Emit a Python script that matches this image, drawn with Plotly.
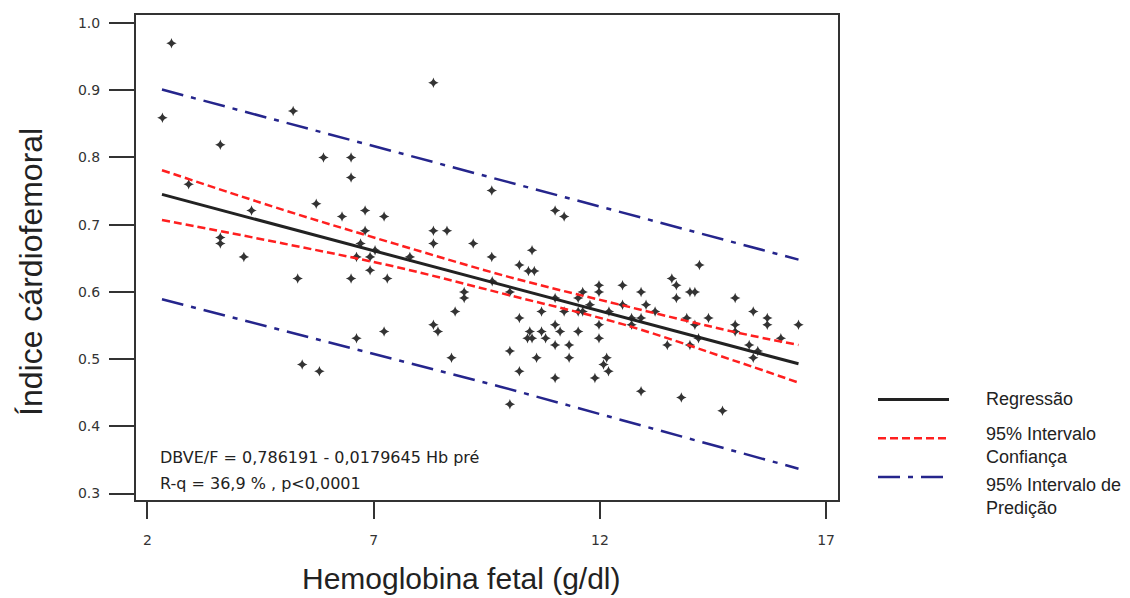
import plotly.graph_objects as go

# ---- Data ----
hb_x = [2.53, 2.33, 5.22, 3.61, 5.89, 6.50, 6.50, 2.91, 5.73, 4.30, 6.30, 6.81, 6.81, 3.61, 3.61,
        4.13, 6.71, 6.62, 6.92, 6.92, 7.03, 8.32, 9.61, 11.01, 11.21, 7.23, 8.32, 8.62, 8.32, 9.20,
        10.50, 9.61, 7.80, 10.22, 10.42, 10.55, 14.20, 5.32, 6.50, 6.62, 5.42, 5.80, 7.30, 9.00, 9.00,
        8.80, 9.62, 10.01, 11.01, 11.98, 11.98, 10.71, 10.22, 8.32, 8.42, 7.23, 10.45, 10.40, 10.50,
        10.71, 10.80, 11.01, 11.12, 11.01, 11.32, 11.52, 11.98, 11.98, 10.01, 10.60, 11.32, 8.72,
        10.22, 11.01, 11.89, 10.01, 12.15, 12.08, 12.19, 11.78, 11.52, 12.50, 13.59, 13.69, 13.69,
        13.99, 14.10, 12.91, 14.99, 13.02, 12.50, 13.22, 15.39, 12.20, 12.91, 12.70, 12.70, 13.92,
        14.40, 15.70, 15.70, 16.39, 14.99, 14.10, 14.99, 14.18, 16.00, 13.49, 13.99, 15.30, 15.39,
        15.49, 12.91, 13.80, 14.71, 11.62, 11.52, 11.62, 11.21]
icf_y = [0.970, 0.859, 0.869, 0.819, 0.800, 0.800, 0.770, 0.760, 0.731, 0.721, 0.712, 0.721, 0.691,
         0.681, 0.672, 0.652, 0.672, 0.652, 0.652, 0.632, 0.662, 0.911, 0.751, 0.721, 0.712, 0.712,
         0.691, 0.691, 0.672, 0.672, 0.662, 0.652, 0.652, 0.640, 0.631, 0.631, 0.640, 0.620, 0.620,
         0.531, 0.492, 0.482, 0.620, 0.600, 0.591, 0.571, 0.616, 0.600, 0.591, 0.610, 0.600, 0.571,
         0.561, 0.551, 0.541, 0.541, 0.541, 0.531, 0.531, 0.541, 0.531, 0.551, 0.541, 0.521, 0.521,
         0.541, 0.551, 0.531, 0.512, 0.502, 0.502, 0.502, 0.482, 0.472, 0.472, 0.433, 0.502, 0.492,
         0.482, 0.581, 0.571, 0.610, 0.620, 0.610, 0.591, 0.600, 0.600, 0.600, 0.591, 0.581, 0.581,
         0.571, 0.571, 0.571, 0.561, 0.561, 0.551, 0.561, 0.561, 0.561, 0.551, 0.551, 0.551, 0.551,
         0.541, 0.531, 0.531, 0.521, 0.521, 0.521, 0.502, 0.512, 0.452, 0.443, 0.423, 0.600, 0.591,
         0.571, 0.571]

reg_x = [2.32, 16.39]
reg_y = [0.745, 0.493]

ci_x = [2.32, 5.0, 7.5, 10.0, 12.5, 15.0, 16.39]
ci_upper = [0.781, 0.722, 0.671, 0.622, 0.580, 0.540, 0.521]
ci_lower = [0.707, 0.672, 0.637, 0.595, 0.552, 0.497, 0.465]

pi_x = [2.32, 9.8, 16.39]
pi_upper = [0.901, 0.766, 0.648]
pi_lower = [0.589, 0.459, 0.337]

y_ticks = [0.3, 0.4, 0.5, 0.6, 0.7, 0.8, 0.9, 1.0]
y_ticklabels = ["0.3", "0.4", "0.5", "0.6", "0.7", "0.8", "0.9", "1.0"]
x_ticks = [2, 7, 12, 17]
x_ticklabels = ["2", "7", "12", "17"]

legend_labels = ["Regressão", "95% Intervalo<br>Confiança", "95% Intervalo de<br>Predição"]

FONT = "DejaVu Sans"
SANS = "Liberation Sans"
REG_COLOR = "#222222"
CI_COLOR = "#ff1f1f"
PI_COLOR = "#25258c"
CI_DASH = "8px,4px"
PI_DASH = "22px,8px,5px,8px"

# The page body adds an 8px offset; the figure is sized/margined so the
# plot area lands at window pixels x 136..838, y 13..500.
OFF = 8
W, H = 1130 - OFF, 598 - OFF

fig = go.Figure()

fig.add_trace(go.Scatter(x=pi_x, y=pi_upper, mode="lines",
                         line=dict(color=PI_COLOR, width=2.5, dash=PI_DASH), showlegend=False))
fig.add_trace(go.Scatter(x=pi_x, y=pi_lower, mode="lines",
                         line=dict(color=PI_COLOR, width=2.5, dash=PI_DASH), showlegend=False))
fig.add_trace(go.Scatter(x=hb_x, y=icf_y, mode="markers",
                         marker=dict(symbol="star-diamond", size=7.5, color="#333333"),
                         showlegend=False))
fig.add_trace(go.Scatter(x=ci_x, y=ci_upper, mode="lines", line_shape="spline",
                         line=dict(color=CI_COLOR, width=2.5, dash=CI_DASH), showlegend=False))
fig.add_trace(go.Scatter(x=ci_x, y=ci_lower, mode="lines", line_shape="spline",
                         line=dict(color=CI_COLOR, width=2.5, dash=CI_DASH), showlegend=False))
fig.add_trace(go.Scatter(x=reg_x, y=reg_y, mode="lines",
                         line=dict(color=REG_COLOR, width=3), showlegend=False))


def px2paper_x(px):
    return (px - 136) / 702


def px2paper_y(py):
    return (500 - py) / 487


# Manual legend (samples in paper coords, right of the plot area)
legend_rows = [
    (399, 399, REG_COLOR, "solid", legend_labels[0]),
    (438, 445, CI_COLOR, CI_DASH, legend_labels[1]),
    (477, 496, PI_COLOR, PI_DASH, legend_labels[2]),
]
for ly, ty, col, dash, lab in legend_rows:
    fig.add_shape(type="line", xref="paper", yref="paper",
                  x0=px2paper_x(878), x1=px2paper_x(949),
                  y0=px2paper_y(ly), y1=px2paper_y(ly),
                  line=dict(color=col, width=3 if dash == "solid" else 2.5, dash=dash))
    fig.add_annotation(xref="paper", yref="paper", x=px2paper_x(984), y=px2paper_y(ty),
                       text=lab, showarrow=False, xanchor="left", yanchor="middle", align="left",
                       font=dict(family=SANS, size=18, color="#222"))

# Equation annotation
fig.add_annotation(xref="paper", yref="paper", x=px2paper_x(158), y=px2paper_y(457),
                   text="DBVE/F = 0,786191 - 0,0179645 Hb pré", showarrow=False,
                   xanchor="left", yanchor="middle", font=dict(family=FONT, size=16, color="#222"))
fig.add_annotation(xref="paper", yref="paper", x=px2paper_x(158), y=px2paper_y(483),
                   text="R-q = 36,9 % , p<0,0001", showarrow=False,
                   xanchor="left", yanchor="middle", font=dict(family=FONT, size=16, color="#222"))

# Axis titles
fig.add_annotation(xref="paper", yref="paper", x=px2paper_x(31), y=px2paper_y(271),
                   text="Índice cárdiofemoral", showarrow=False, textangle=-90,
                   xanchor="center", yanchor="middle", font=dict(family=SANS, size=32, color="#222"))
fig.add_annotation(xref="paper", yref="paper", x=px2paper_x(461), y=px2paper_y(579),
                   text="Hemoglobina fetal (g/dl)", showarrow=False,
                   xanchor="center", yanchor="middle", font=dict(family=SANS, size=30, color="#222"))

fig.update_layout(
    width=W, height=H,
    margin=dict(l=136 - OFF, r=1130 - 838, t=13 - OFF, b=598 - 500),
    paper_bgcolor="white", plot_bgcolor="white",
    font=dict(family=FONT, color="#333"),
    showlegend=False,
)
fig.update_xaxes(range=[1.746, 17.263], tickvals=x_ticks, ticktext=x_ticklabels,
                 showgrid=False, zeroline=False, showline=True, mirror=True,
                 linecolor="#333", linewidth=2, ticks="outside", ticklen=17, tickwidth=2,
                 tickcolor="#333", tickfont=dict(family=FONT, size=14, color="#333"),
                 ticklabelstandoff=9)
fig.update_yaxes(range=[0.2904, 1.0119], tickvals=y_ticks, ticktext=y_ticklabels,
                 showgrid=False, zeroline=False, showline=True, mirror=True,
                 linecolor="#333", linewidth=2, ticks="outside", ticklen=25, tickwidth=2,
                 tickcolor="#333", tickfont=dict(family=FONT, size=14, color="#333"),
                 ticklabelstandoff=6)

fig.write_html("out.html")
